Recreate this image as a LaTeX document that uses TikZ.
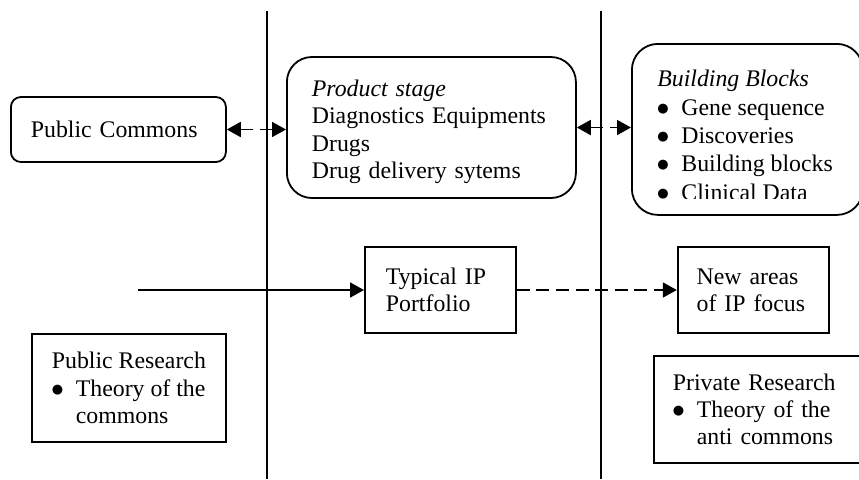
\documentclass[tikz,border=0pt]{standalone}
\usepackage{fontspec}
\setmainfont{Liberation Serif}
\newfontfamily\dotfont{DejaVu Sans}
\usetikzlibrary{positioning,arrows.meta}
\newcommand{\bitem}[1]{\makebox[12pt][l]{\raisebox{1.5pt}{\dotfont\fontsize{6.5}{7}\selectfont ●}}#1}

\begin{document}
\begin{tikzpicture}[x=0.5pt,y=-0.5pt,
    font=\fontsize{11.9}{13.6}\selectfont,
    box/.style={draw, line width=0.9pt, align=left, inner ysep=0pt},
    roundbox/.style={box, rounded corners=#1},
    roundbox/.default=5pt,
    arrowline/.style={line width=0.9pt, -{Triangle[length=7pt,width=7.5pt]}},
    dblarrow/.style={line width=0.9pt, {Triangle[length=7pt,width=7.5pt]}-{Triangle[length=7pt,width=7.5pt]}},
    dashline/.style={dash pattern=on 6.5pt off 3.3pt}
  ]
  \useasboundingbox (0,0) rectangle (859,479);

  \coordinate (ltop) at (267,11);
  \coordinate (lbot) at (267,479);
  \coordinate (rtop) at (601,11);
  \coordinate (rbot) at (601,479);
  \draw[line width=0.8pt] (ltop) -- (lbot);
  \draw[line width=0.8pt] (rtop) -- (rbot);

  \node[roundbox, anchor=west, text width=87.5pt, inner xsep=10pt, minimum height=32.5pt] (pubcom) at (10,129.5) {Public Commons};
  \node[roundbox=12.5pt, anchor=west, text width=119.5pt, inner xsep=12.5pt, minimum height=70.5pt] (prod) at (286,127.5)
    {\rule{0pt}{12.5pt}\textit{Product stage}\\Diagnostics Equipments\\Drugs\\Drug delivery sytems};
  \node[roundbox=13pt, anchor=north west, minimum width=115.5pt, minimum height=85.5pt] (blocks) at (631,43) {};
  \begin{scope}
    \clip (blocks.north west) rectangle ([yshift=8.75pt]blocks.south east);
    \node[anchor=north west, inner sep=0pt, align=left, font=\fontsize{11.9}{14.15}\selectfont] (blocktxt) at (657,70)
      {\textit{Building Blocks}\\\bitem{Gene sequence}\\\bitem{Discoveries}\\\bitem{Building blocks}\\\bitem{Clinical Data}};
  \end{scope}

  \node[box, anchor=west, text width=54.5pt, inner xsep=10.5pt, minimum height=43pt] (port) at (364,290) {Typical IP\\Portfolio};
  \node[box, right=80pt of port, text width=56.5pt, inner xsep=9.5pt, minimum height=43pt] (newip) {New areas\\of IP focus};

  \node[box, anchor=north west, minimum width=97pt, minimum height=54pt] (pubres) at (31,333)
    {Public Research\\\bitem{Theory of the}\\\hspace*{12pt}commons};
  \node[box, anchor=north west, text width=89.5pt, inner xsep=9.5pt, minimum height=53.5pt] (privres) at (653,355)
    {Private Research\\\bitem{Theory of the}\\\hspace*{12pt}anti commons};

  \coordinate (feed) at (138,290);
  \draw[arrowline] (feed) -- (port);
  \draw[arrowline, dashline] (port) -- (newip);
  \draw[dblarrow, dashline] (pubcom.east) -- (pubcom.east -| prod.west);
  \draw[dblarrow, dashline] (prod.east) -- (prod.east -| blocks.west);
\end{tikzpicture}
\end{document}
